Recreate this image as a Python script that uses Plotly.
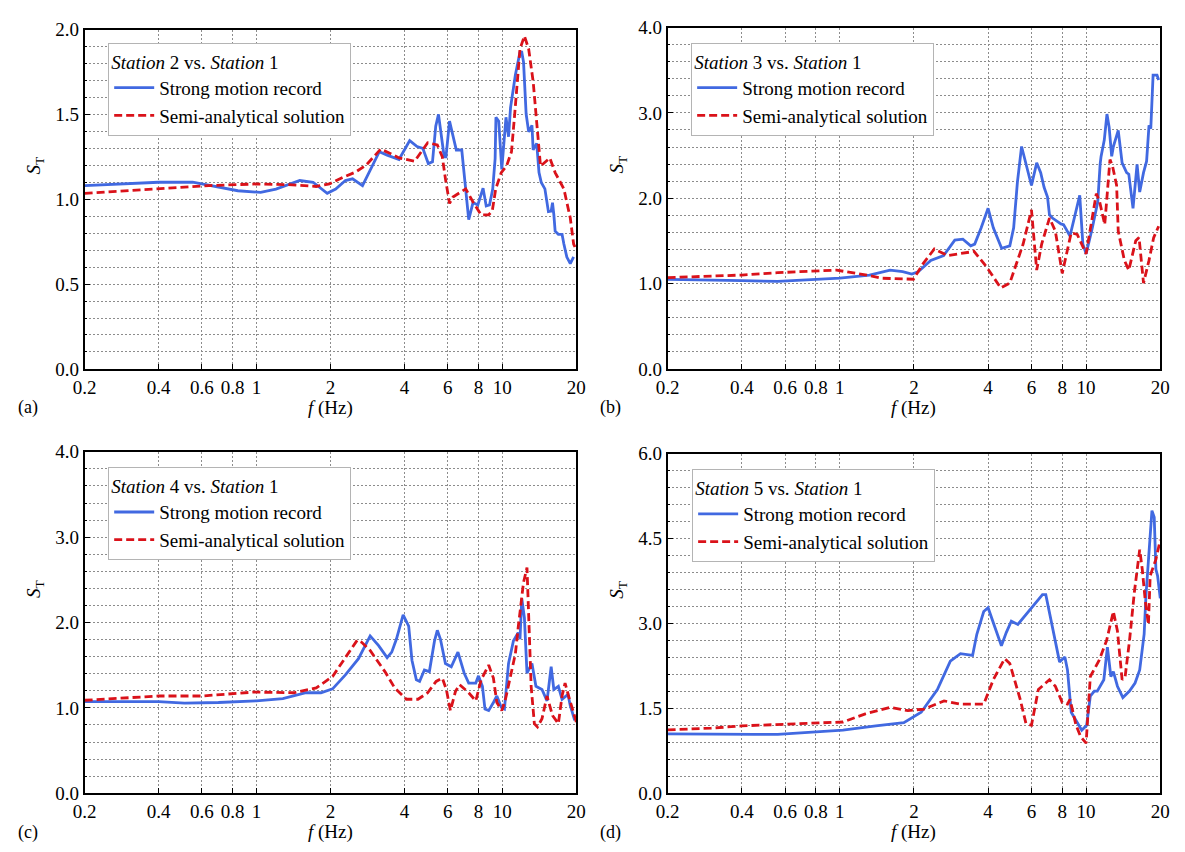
import math
import plotly.graph_objects as go

# ---------------- data ----------------
# Panel (a): Station 2 vs Station 1
a_rec_f = [0.2, 0.3, 0.4, 0.55, 0.7, 0.84, 1.04, 1.2, 1.5, 1.7, 1.94, 2.1, 2.3, 2.46, 2.7, 3.0, 3.16, 3.4, 3.8,
           4.2, 4.5, 4.75, 5.0, 5.2, 5.36, 5.5, 5.65, 5.8, 5.9, 6.1, 6.5, 6.84, 7.06, 7.3, 7.6, 7.95, 8.35, 8.6,
           8.87, 9.14, 9.35, 9.42, 9.67, 9.95, 10.35, 10.6, 10.8, 11.3, 11.8, 12.0, 12.2, 12.5, 12.8, 13.2, 13.35,
           13.8, 14.1, 14.4, 14.9, 15.4, 15.8, 16.0, 16.2, 16.4, 16.9, 17.5, 17.8, 18.3, 18.9, 19.5]
a_rec_v = [1.08, 1.09, 1.10, 1.10, 1.07, 1.05, 1.04, 1.06, 1.11, 1.10, 1.035, 1.06, 1.11, 1.12, 1.08, 1.22, 1.28,
           1.26, 1.234, 1.345, 1.31, 1.30, 1.21, 1.22, 1.43, 1.50, 1.37, 1.25, 1.25, 1.46, 1.29, 1.29, 1.09, 0.88,
           0.98, 0.966, 1.065, 0.96, 0.966, 1.06, 1.24, 1.483, 1.46, 1.176, 1.483, 1.368, 1.54, 1.732, 1.866,
           1.866, 1.808, 1.502, 1.397, 1.435, 1.291, 1.329, 1.157, 1.099, 1.061, 0.927, 0.93, 0.98, 0.91, 0.812,
           0.793, 0.793, 0.736, 0.659, 0.621, 0.66]
a_sol_f = [0.2, 0.3, 0.45, 0.64, 1.0, 1.4, 1.75, 1.98, 2.24, 2.53, 2.79, 3.2, 3.5, 3.8, 4.4, 4.97, 5.44, 5.7, 5.87,
           6.1, 6.3, 7.1, 7.6, 8.2, 8.8, 9.1, 9.4, 9.9, 10.4, 10.9, 11.3, 11.8, 12.3, 12.8, 13.35, 13.9, 14.3,
           15.6, 16.4, 17.8, 18.3, 18.9, 19.5, 20.0]
a_sol_v = [1.035, 1.05, 1.065, 1.08, 1.09, 1.085, 1.075, 1.09, 1.128, 1.16, 1.20, 1.295, 1.27, 1.243, 1.224, 1.333,
           1.32, 1.25, 1.12, 0.975, 1.013, 1.061, 0.984, 0.908, 0.908, 0.93, 1.061, 1.157, 1.195, 1.28, 1.55,
           1.885, 1.962, 1.885, 1.693, 1.425, 1.195, 1.243, 1.157, 1.061, 0.984, 0.889, 0.736, 0.70]

# Panel (b): Station 3 vs Station 1
b_rec_f = [0.2, 0.3, 0.4, 0.56, 0.8, 1.0, 1.32, 1.6, 1.8, 1.96, 2.08, 2.34, 2.64, 2.93, 3.16, 3.4, 3.53, 3.75, 4.0,
           4.2, 4.54, 4.9, 5.08, 5.26, 5.47, 6.0, 6.3, 6.54, 6.75, 6.97, 7.1, 7.3, 7.9, 8.1, 8.6, 9.05, 9.42, 9.7,
           10.0, 10.6, 11.15, 11.4, 11.5, 11.85, 12.15, 12.4, 12.7, 12.9, 13.5, 14.0, 14.6, 14.9, 15.5, 16.1, 16.5,
           17.1, 17.6, 18.0, 18.3, 18.7, 19.4, 19.7]
b_rec_v = [1.05, 1.045, 1.035, 1.025, 1.045, 1.065, 1.10, 1.158, 1.14, 1.112, 1.139, 1.272, 1.329, 1.509, 1.52,
           1.443, 1.463, 1.654, 1.882, 1.654, 1.414, 1.443, 1.654, 2.186, 2.606, 2.149, 2.415, 2.30, 2.129, 2.015,
           1.806, 1.768, 1.699, 1.691, 1.558, 1.806, 2.034, 1.463, 1.349, 1.654, 1.958, 2.40, 2.49, 2.682, 2.986,
           2.834, 2.491, 2.606, 2.796, 2.415, 2.30, 2.282, 1.882, 2.396, 2.072, 2.30, 2.434, 2.853, 2.815, 3.443,
           3.443, 3.386]
b_sol_f = [0.2, 0.3, 0.4, 0.56, 0.97, 1.32, 1.48, 1.99, 2.18, 2.42, 2.74, 3.36, 3.5, 3.94, 4.5, 4.9, 5.55, 6.0, 6.3,
           6.6, 7.1, 7.5, 8.0, 8.7, 9.2, 10.0, 11.0, 11.35, 11.9, 12.5, 12.8, 13.3, 13.5, 14.3, 14.9, 15.9, 16.4,
           17.1, 18.0, 18.8, 19.7]
b_sol_v = [1.07, 1.085, 1.10, 1.128, 1.158, 1.093, 1.063, 1.051, 1.234, 1.406, 1.329, 1.368, 1.38, 1.197, 0.949,
           1.006, 1.463, 1.863, 1.158, 1.463, 1.768, 1.615, 1.12, 1.596, 1.577, 1.349, 2.054, 1.958, 1.691, 2.453,
           2.377, 2.149, 1.615, 1.272, 1.158, 1.501, 1.539, 1.006, 1.272, 1.539, 1.672]

# Panel (c): Station 4 vs Station 1
c_rec_f = [0.2, 0.4, 0.51, 0.7, 1.0, 1.28, 1.59, 1.83, 2.04, 2.3, 2.6, 2.9, 3.14, 3.4, 3.55, 3.71, 3.95, 4.16, 4.29,
           4.47, 4.61, 4.82, 5.05, 5.3, 5.44, 5.6, 5.87, 6.2, 6.6, 7.0, 7.3, 7.8, 8.0, 8.3, 8.5, 8.8, 9.2, 9.5, 9.9,
           10.2, 10.6, 11.1, 11.6, 11.8, 12.0, 12.3, 12.6, 13.2, 13.7, 14.5, 15.2, 15.8, 16.2, 16.9, 17.5, 18.5,
           18.9, 19.7]
c_rec_v = [1.074, 1.074, 1.055, 1.063, 1.082, 1.109, 1.177, 1.177, 1.223, 1.387, 1.577, 1.843, 1.729, 1.589,
           1.653, 1.806, 2.091, 1.958, 1.558, 1.329, 1.31, 1.443, 1.425, 1.786, 1.909, 1.806, 1.52, 1.482, 1.653,
           1.406, 1.291, 1.291, 1.375, 1.251, 0.986, 0.968, 1.063, 1.139, 1.006, 0.986, 1.52, 1.786, 1.881, 1.806,
           2.282, 2.053, 1.406, 1.52, 1.253, 1.215, 1.082, 1.482, 1.215, 1.253, 1.101, 1.158, 1.025, 0.854]
c_sol_f = [0.2, 0.4, 0.6, 0.98, 1.42, 1.75, 2.04, 2.3, 2.57, 2.68, 2.9, 3.33, 3.65, 4.07, 4.54, 4.97, 5.38, 5.7,
           5.92, 6.15, 6.45, 6.7, 7.3, 7.8, 8.2, 8.8, 9.2, 9.5, 9.95, 10.3, 10.9, 11.3, 11.6, 12.2, 12.6, 12.8, 13.1,
           13.5, 13.9, 14.5, 15.2, 16.0, 16.9, 17.5, 18.0, 18.6, 19.3, 20.0]
c_sol_v = [1.089, 1.139, 1.139, 1.185, 1.177, 1.234, 1.368, 1.597, 1.794, 1.768, 1.672, 1.425, 1.234, 1.101, 1.101,
           1.177, 1.31, 1.349, 1.215, 0.968, 1.194, 1.272, 1.177, 1.082, 1.329, 1.501, 1.349, 1.063, 0.968, 1.101,
           1.443, 1.634, 1.939, 2.472, 2.643, 2.091, 1.253, 0.815, 0.777, 0.872, 1.139, 0.911, 0.815, 1.139, 1.291,
           1.139, 0.986, 0.834]

# Panel (d): Station 5 vs Station 1
d_rec_f = [0.2, 0.3, 0.45, 0.56, 1.03, 1.4, 1.82, 2.14, 2.49, 2.81, 3.09, 3.46, 3.6, 3.84, 4.0, 4.27, 4.53, 4.74,
           4.97, 5.28, 5.7, 6.25, 6.65, 6.86, 7.3, 7.8, 8.2, 8.4, 8.7, 9.6, 10.05, 10.4, 10.8, 11.1, 11.8, 12.2,
           12.6, 12.9, 13.4, 14.1, 15.0, 15.8, 16.5, 17.2, 17.5, 17.9, 18.5, 18.9, 19.2, 19.5, 20.0]
d_rec_v = [1.05, 1.04, 1.04, 1.04, 1.115, 1.19, 1.247, 1.431, 1.833, 2.333, 2.466, 2.436, 2.81, 3.212, 3.278,
           2.925, 2.608, 2.839, 3.04, 2.983, 3.155, 3.356, 3.509, 3.509, 2.925, 2.322, 2.408, 2.178, 1.431, 1.115,
           1.201, 1.718, 1.805, 1.805, 2.006, 2.581, 2.063, 2.149, 1.891, 1.69, 1.805, 1.948, 2.178, 2.81, 3.5,
           4.074, 4.994, 4.879, 3.959, 3.845, 3.443]
d_sol_f = [0.2, 0.3, 0.4, 0.56, 1.03, 1.27, 1.6, 1.89, 2.2, 2.65, 3.09, 3.84, 4.2, 4.67, 4.9, 5.4, 5.7, 6.0, 6.4,
           7.1, 7.5, 8.0, 8.4, 8.6, 9.1, 9.5, 10.0, 10.4, 11.3, 12.1, 12.9, 13.4, 14.0, 14.4, 15.0, 15.7, 16.5,
           16.9, 17.4, 17.9, 18.2, 19.2, 20.0]
d_sol_v = [1.12, 1.15, 1.19, 1.212, 1.259, 1.402, 1.517, 1.46, 1.488, 1.632, 1.574, 1.574, 2.006, 2.379, 2.293,
           1.66, 1.229, 1.201, 1.833, 2.006, 1.891, 1.603, 1.574, 1.66, 1.201, 1.0, 0.885, 2.063, 2.35, 2.695,
           3.212, 2.867, 2.006, 2.063, 2.695, 3.557, 4.305, 3.959, 3.385, 2.983, 3.845, 4.133, 4.478]

x_tickvals = [0.2, 0.4, 0.6, 0.8, 1, 2, 4, 6, 8, 10, 20]
x_ticktext = ["0.2", "0.4", "0.6", "0.8", "1", "2", "4", "6", "8", "10", "20"]
panel_titles = ["<i>Station</i> 2 vs. <i>Station</i> 1", "<i>Station</i> 3 vs. <i>Station</i> 1",
                "<i>Station</i> 4 vs. <i>Station</i> 1", "<i>Station</i> 5 vs. <i>Station</i> 1"]
panel_labels = ["(a)", "(b)", "(c)", "(d)"]
y_max = [2.0, 4.0, 4.0, 6.0]
y_major = [0.5, 1.0, 1.0, 1.5]
y_minor = [0.1, 0.2, 0.2, 0.3]
series_names = ["Strong motion record", "Semi-analytical solution"]

# ---------------- layout geometry (pixels) ----------------
W, H = 1185, 852
FONT = "Liberation Serif"
FS = 19
# plot boxes: (left, right, top, bottom)
boxes = [(74, 575, 20, 368), (668, 1170, 18, 368), (74, 575, 453, 803), (668, 1170, 455, 803)]
legend_pos = [(98, 34), (692, 34), (98, 469), (693, 471)]

BLUE = "rgb(65,105,225)"
RED = "rgb(218,18,26)"
GRID = "#8c8c8c"

data = [
    (a_rec_f, a_rec_v, a_sol_f, a_sol_v),
    (b_rec_f, b_rec_v, b_sol_f, b_sol_v),
    (c_rec_f, c_rec_v, c_sol_f, c_sol_v),
    (d_rec_f, d_rec_v, d_sol_f, d_sol_v),
]

fig = go.Figure()
layout = dict(
    width=W, height=H,
    margin=dict(l=0, r=0, t=0, b=0),
    paper_bgcolor="white", plot_bgcolor="white",
    font=dict(family=FONT, size=FS, color="black"),
    showlegend=True,
)
annotations = []

for i, (rf, rv, sf, sv) in enumerate(data):
    n = "" if i == 0 else str(i + 1)
    xa, ya = "x" + n, "y" + n
    lg = "legend" + n
    l, r, t, b = boxes[i]
    fig.add_trace(go.Scatter(x=rf, y=rv, mode="lines", name=series_names[0],
                             line=dict(color=BLUE, width=2.8), xaxis=xa, yaxis=ya, legend=lg))
    fig.add_trace(go.Scatter(x=sf, y=sv, mode="lines", name=series_names[1],
                             line=dict(color=RED, width=2.8, dash="8px,4px"), xaxis=xa, yaxis=ya, legend=lg))
    layout["xaxis" + n] = dict(
        type="log", range=[math.log10(0.2), math.log10(20)],
        domain=[l / W, r / W], anchor=ya,
        tickmode="array", tickvals=x_tickvals, ticktext=x_ticktext,
        showgrid=True, gridcolor=GRID, gridwidth=1, griddash="2px,2px",
        showline=True, linecolor="black", linewidth=1.6, mirror=True,
        ticks="inside", ticklen=5, tickcolor="black",
        tickfont=dict(family=FONT, size=FS, color="black"), zeroline=False,
    )
    layout["yaxis" + n] = dict(
        range=[0, y_max[i]], domain=[1 - b / H, 1 - t / H], anchor=xa,
        tickmode="linear", tick0=0, dtick=y_major[i], tickformat=".1f",
        showgrid=True, gridcolor=GRID, gridwidth=1, griddash="2px,2px",
        minor=dict(dtick=y_minor[i], tick0=0, showgrid=True, gridcolor=GRID, gridwidth=1,
                   griddash="2px,2px", ticks="inside", ticklen=3, tickcolor="black"),
        showline=True, linecolor="black", linewidth=1.6, mirror=True,
        ticks="inside", ticklen=6, tickcolor="black",
        tickfont=dict(family=FONT, size=FS, color="black"), zeroline=False,
    )
    lx, ly = legend_pos[i]
    layout[lg] = dict(
        x=lx / W, y=1 - ly / H, xanchor="left", yanchor="top",
        xref="paper", yref="paper",
        bgcolor="white", bordercolor="#b4b4b4", borderwidth=1,
        font=dict(family=FONT, size=FS, color="black"),
        title=dict(text=panel_titles[i], font=dict(family=FONT, size=FS, color="black")),
        tracegroupgap=0, itemwidth=40,
    )
    # axis titles and panel labels
    cx = (l + r) / 2
    annotations.append(dict(text="<i>f</i> (Hz)", x=cx / W, y=1 - (b + 40) / H, xref="paper", yref="paper",
                            showarrow=False, xanchor="center", yanchor="middle",
                            font=dict(family=FONT, size=FS, color="black")))
    annotations.append(dict(text="<i>S</i><sub>T</sub>", x=(l - 50) / W, y=1 - ((t + b) / 2 - 34) / H,
                            xref="paper", yref="paper", textangle=-90, showarrow=False,
                            xanchor="center", yanchor="middle",
                            font=dict(family=FONT, size=FS, color="black")))
    plx = 16 if i % 2 == 0 else 610
    annotations.append(dict(text=panel_labels[i], x=plx / W, y=1 - (b + 40) / H, xref="paper", yref="paper",
                            showarrow=False, xanchor="center", yanchor="middle",
                            font=dict(family=FONT, size=FS - 1, color="black")))

layout["annotations"] = annotations
fig.update_layout(**layout)
fig.write_html("out.html")
